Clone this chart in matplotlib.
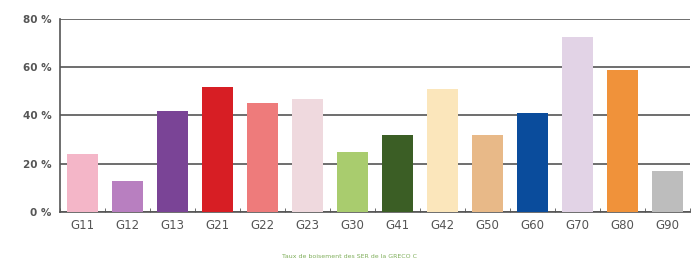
import matplotlib
matplotlib.use("Agg")
import matplotlib.pyplot as plt
import numpy as np

categories = ["G11", "G12", "G13", "G21", "G22", "G23", "G30", "G41", "G42", "G50", "G60", "G70", "G80", "G90"]
values = [24, 13, 42, 52, 45, 47, 25, 32, 51, 32, 41, 72.5, 59, 17]
colors = ["#f4b6c8", "#b87fc0", "#7a4496", "#d71e24", "#ee7b7b", "#efd9de", "#a9cc6e",
          "#3b5e25", "#fbe6bb", "#e8b988", "#0a4c9c", "#e2d3e6", "#f0923a", "#bdbdbd"]
yticks = [0, 20, 40, 60, 80]
ytick_labels = ["0 %", "20 %", "40 %", "60 %", "80 %"]
caption = "Taux de boisement des SER de la GRECO C"

fig = plt.figure(figsize=(6.99, 2.6), dpi=100)
ax = fig.add_axes([0.086, 0.185, 0.901, 0.742])
x = np.arange(len(categories))
ax.bar(x, values, width=0.68, color=colors, zorder=3)
ax.set_xlim(-0.5, len(categories) - 0.5)
ax.set_ylim(0, 80)
ax.set_yticks(yticks)
ax.set_yticklabels(ytick_labels, fontsize=7.5, color="#555555", fontweight="bold")
ax.set_xticks(x)
ax.set_xticklabels(categories, fontsize=8.5, color="#555555")
ax.set_xticks(np.arange(len(categories) + 1) - 0.5, minor=True)
ax.tick_params(axis="x", which="major", length=0, pad=5)
ax.tick_params(axis="x", which="minor", length=3, direction="in", color="#555555")
ax.tick_params(axis="y", length=0, pad=6)
ax.yaxis.grid(True, color="#555555", linewidth=1.2, zorder=0)
ax.set_axisbelow(True)
for s in ["top", "right"]:
    ax.spines[s].set_visible(False)
for s in ["left", "bottom"]:
    ax.spines[s].set_color("#555555")
    ax.spines[s].set_linewidth(1.2)
fig.text(0.5, 0.005, caption, ha="center", va="bottom", fontsize=4.5, color="#7fae5a")
fig.savefig("out.png", dpi=100)
